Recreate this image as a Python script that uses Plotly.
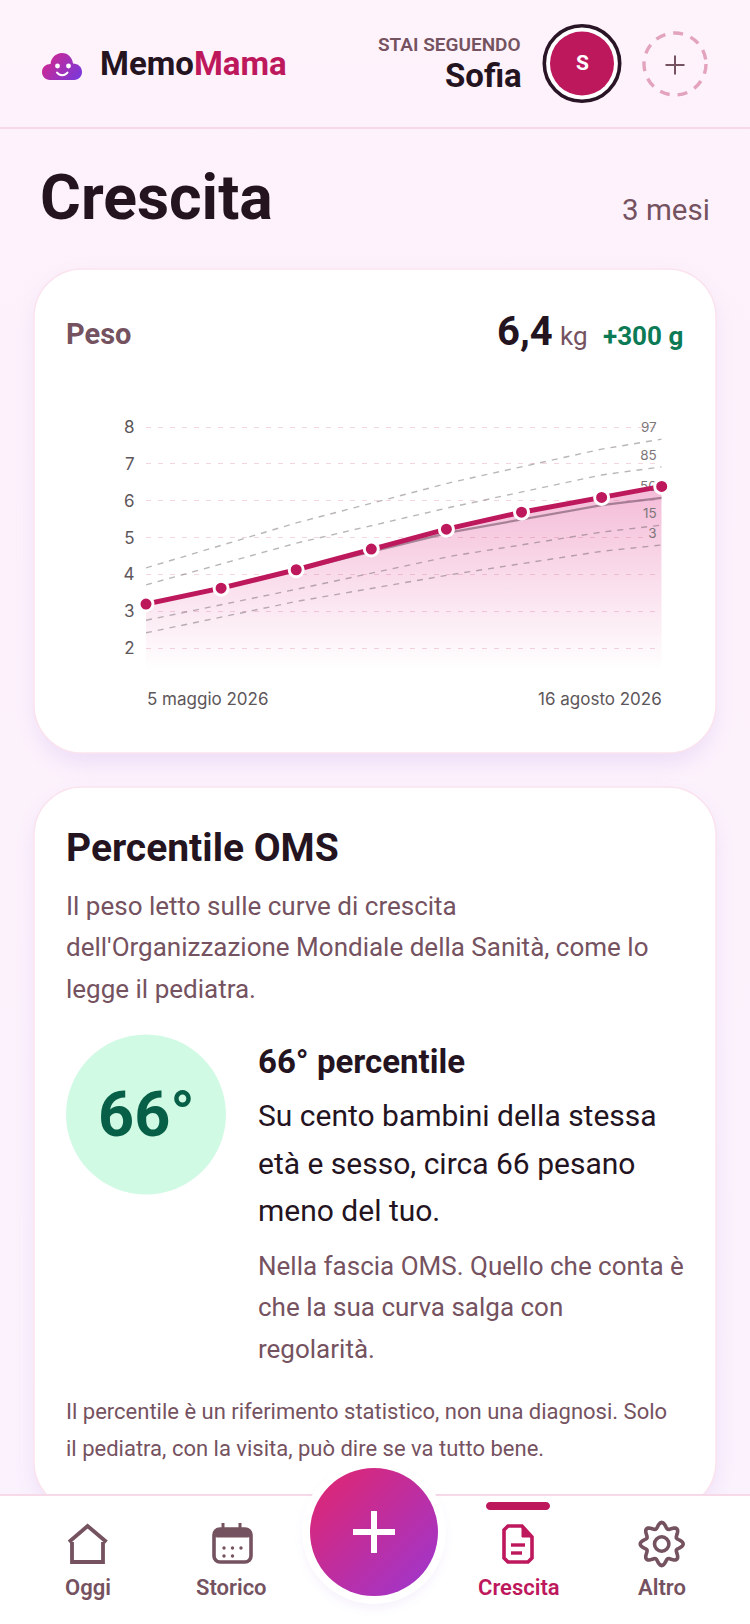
import base64

import numpy as np
import plotly.graph_objects as go

W, H = 750, 1624

# weight measurements of the child
dates = ['2026-05-05', '2026-05-20', '2026-06-04', '2026-06-19',
         '2026-07-04', '2026-07-19', '2026-08-04', '2026-08-16']
peso = [3.2, 3.63, 4.13, 4.69, 5.23, 5.69, 6.09, 6.39]

# WHO percentile curves, monthly
curve_dates = ['2026-05-05', '2026-06-04', '2026-07-05', '2026-08-04', '2026-08-16']
p97 = [4.18, 5.4, 6.5, 7.4, 7.67]
p85 = [3.72, 4.85, 5.83, 6.7, 6.92]
p50 = [3.2, 4.12, 5.15, 5.88, 6.08]
p15 = [2.76, 3.6, 4.5, 5.15, 5.34]
p3 = [2.42, 3.27, 4.0, 4.63, 4.8]
curve_labels = ['97', '85', '50', '15', '3']
label_date = '2026-08-15'
label_lift = 0.1

y_ticks = [2, 3, 4, 5, 6, 7, 8]

INK = '#24141f'
MAUVE = '#75525f'
CRIMSON = '#be185d'
GREY = '#5d565a'
BORDER = '#f8d9e8'


def px(x):
    return x / W


def py(y):
    return 1 - y / H


def round_rect(x0, y0, x1, y1, r):
    k = r * 0.448
    pts = [
        f'M{px(x0 + r)},{py(y0)}', f'L{px(x1 - r)},{py(y0)}',
        f'C{px(x1 - k)},{py(y0)} {px(x1)},{py(y0 + k)} {px(x1)},{py(y0 + r)}',
        f'L{px(x1)},{py(y1 - r)}',
        f'C{px(x1)},{py(y1 - k)} {px(x1 - k)},{py(y1)} {px(x1 - r)},{py(y1)}',
        f'L{px(x0 + r)},{py(y1)}',
        f'C{px(x0 + k)},{py(y1)} {px(x0)},{py(y1 - k)} {px(x0)},{py(y1 - r)}',
        f'L{px(x0)},{py(y0 + r)}',
        f'C{px(x0)},{py(y0 + k)} {px(x0 + k)},{py(y0)} {px(x0 + r)},{py(y0)}', 'Z',
    ]
    return ' '.join(pts)


def poly(points, close=False):
    s = 'M' + ' L'.join(f'{px(x)},{py(y)}' for x, y in points)
    return s + (' Z' if close else '')


shapes = []


def add_path(path, fill=None, color=None, width=0, layer='below'):
    line = dict(color=color, width=width) if color else dict(width=0)
    shapes.append(dict(type='path', path=path, xref='paper', yref='paper', layer=layer,
                       fillcolor=fill or 'rgba(0,0,0,0)', line=line))


def add_circle(cx, cy, r, fill=None, color=None, width=0, dash=None, layer='below'):
    line = dict(color=color, width=width, dash=dash) if color else dict(width=0)
    shapes.append(dict(type='circle', xref='paper', yref='paper', layer=layer,
                       x0=px(cx - r), x1=px(cx + r), y0=py(cy + r), y1=py(cy - r),
                       fillcolor=fill or 'rgba(0,0,0,0)', line=line))


annotations = []


def add_text(x, y, s, size, color=INK, weight=400, anchor='left', font='Roboto'):
    annotations.append(dict(x=px(x), y=py(y), xref='paper', yref='paper', text=s,
                            showarrow=False, xanchor=anchor, yanchor='middle', borderpad=0,
                            font=dict(family=font, size=size, color=color, weight=weight)))


def svg_image(svg, x, y, w, h, layer):
    src = 'data:image/svg+xml;base64,' + base64.b64encode(svg.encode()).decode()
    return dict(source=src, xref='paper', yref='paper', x=px(x), y=py(y), sizex=w / W, sizey=h / H,
                xanchor='left', yanchor='top', sizing='stretch', layer=layer)


# page background and card shadows
bg_svg = f'''<svg xmlns="http://www.w3.org/2000/svg" width="{W}" height="{H}" viewBox="0 0 {W} {H}">
<defs><linearGradient id="g" x1="0" y1="0" x2="0" y2="1">
<stop offset="0" stop-color="#fef2fb"/><stop offset="1" stop-color="#faf2fd"/></linearGradient>
<filter id="b" x="-20%" y="-20%" width="140%" height="140%"><feGaussianBlur stdDeviation="11"/></filter></defs>
<rect width="{W}" height="{H}" fill="url(#g)"/>
<rect x="36" y="279" width="678" height="484" rx="48" fill="#8a50d8" opacity="0.13" filter="url(#b)"/>
<rect x="36" y="797" width="678" height="720" rx="48" fill="#8a50d8" opacity="0.13" filter="url(#b)"/>
</svg>'''

logo_svg = '''<svg xmlns="http://www.w3.org/2000/svg" width="40" height="27" viewBox="0 0 40 27">
<defs><linearGradient id="l" gradientUnits="userSpaceOnUse" x1="4" y1="2" x2="36" y2="26">
<stop offset="0" stop-color="#d1278f"/><stop offset="1" stop-color="#7c38d8"/></linearGradient></defs>
<path d="M8 27 C3 27 0 23 0 19 C0 14 4 11 8.500 11 C9 5 13.500 0 20 0 C26 0 30.500 5 31 10.500 C36 10.500 40 14 40 19 C40 23 37 27 32 27 Z" fill="url(#l)"/>
<circle cx="15.500" cy="13" r="2.400" fill="#fff"/><circle cx="26.500" cy="13" r="2.400" fill="#fff"/>
<path d="M15 19.500 C17 23 23.500 23 25.500 19.500" stroke="#fff" stroke-width="2" fill="none" stroke-linecap="round"/>
</svg>'''

fab_svg = '''<svg xmlns="http://www.w3.org/2000/svg" width="180" height="180" viewBox="0 0 180 180">
<defs><linearGradient id="f" x1="0.1" y1="0.1" x2="0.9" y2="0.9">
<stop offset="0" stop-color="#db2777"/><stop offset="1" stop-color="#a235c8"/></linearGradient>
<filter id="s" x="-30%" y="-30%" width="160%" height="160%"><feGaussianBlur stdDeviation="6"/></filter></defs>
<circle cx="90" cy="96" r="70" fill="#8a50d8" opacity="0.08" filter="url(#s)"/>
<circle cx="90" cy="90" r="72" fill="#fff"/>
<circle cx="90" cy="90" r="64" fill="url(#f)"/>
</svg>'''

images = [
    svg_image(bg_svg, 0, 0, W, H, 'below'),
    svg_image(logo_svg, 42, 53, 40, 27, 'above'),
    svg_image(fab_svg, 284, 1442, 180, 180, 'above'),
]

# header
add_path(poly([(0, 128), (W, 128)]), color=BORDER, width=2)
add_text(99, 64, f'Memo<span style="color:{CRIMSON}">Mama</span>', 33, INK, 700)
add_text(522, 44, 'STAI SEGUENDO', 19, MAUVE, 600, 'right')
add_text(522.5, 75.5, 'Sofia', 33, INK, 700, 'right')
add_circle(582, 63.5, 37.7, '#ffffff', '#2a1526', 3.6)
add_circle(582, 63.5, 32, CRIMSON)
add_text(582, 63, 'S', 21, '#ffffff', 700, 'center')
add_circle(675, 64, 31, None, '#e3a3bd', 3.4, '10px,8px')
add_path(poly([(665.5, 65), (684.5, 65)]), color=MAUVE, width=2)
add_path(poly([(675, 55.5), (675, 74.5)]), color=MAUVE, width=2)

add_text(39, 197, 'Crescita', 62.5, INK, 700)
add_text(711, 210, '3 mesi', 29.5, MAUVE, 400, 'right')

# cards
add_path(round_rect(34, 269, 716, 753, 48), '#ffffff', '#fbe3ee', 1.5)
add_path(round_rect(34, 787, 716, 1510, 48), '#ffffff', '#fbe3ee', 1.5)

add_text(65, 334, 'Peso', 29, MAUVE, 700)
add_text(554, 331, '6,4', 40, INK, 700, 'right')
add_text(559, 336, 'kg', 26, MAUVE, 400)
add_text(684, 336, '+300 g', 26, '#0b7a55', 700, 'right')

add_text(65, 848, 'Percentile OMS', 39, INK, 700)
add_text(65, 906, 'Il peso letto sulle curve di crescita', 26, MAUVE)
add_text(65, 947, "dell'Organizzazione Mondiale della Sanità, come lo", 26, MAUVE)
add_text(65, 989, 'legge il pediatra.', 26, MAUVE)

add_circle(146, 1114.5, 80, '#d1fae5')
add_text(146.5, 1114, '66°', 63, '#065f46', 700, 'center')

add_text(257, 1061, '66° percentile', 33, INK, 700)
add_text(257, 1115, 'Su cento bambini della stessa', 30, INK)
add_text(257, 1163, 'età e sesso, circa 66 pesano', 30, INK)
add_text(257, 1210, 'meno del tuo.', 30, INK)
add_text(257, 1266, 'Nella fascia OMS. Quello che conta è', 26, MAUVE)
add_text(257, 1307, 'che la sua curva salga con', 26, MAUVE)
add_text(257, 1349, 'regolarità.', 26, MAUVE)
add_text(65, 1411, 'Il percentile è un riferimento statistico, non una diagnosi. Solo', 22, MAUVE)
add_text(65, 1448, 'il pediatra, con la visita, può dire se va tutto bene.', 22, MAUVE)

# bottom nav
add_path(poly([(0, 1495), (W, 1495), (W, H), (0, H)], True), '#ffffff')
add_path(poly([(0, 1495), (W, 1495)]), color=BORDER, width=2)
add_path(round_rect(486, 1502, 550, 1510, 4), CRIMSON)

for label, x, col in [('Oggi', 87.6, MAUVE), ('Storico', 231.6, MAUVE),
                      ('Crescita', 518.7, CRIMSON), ('Altro', 662, MAUVE)]:
    add_text(x, 1587, label, 22, col, 600, 'center')

# home icon
add_path(poly([(72, 1542), (72, 1562), (103, 1562), (103, 1542)]), color=MAUVE, width=3.8)
add_path(poly([(69, 1542), (87.6, 1526), (106.5, 1542)]), color=MAUVE, width=3.8)
# calendar icon
add_path(round_rect(214, 1529, 251, 1562, 6), None, MAUVE, 3.6)
add_path(round_rect(214, 1529, 251, 1537, 3), MAUVE, MAUVE, 1)
add_path(poly([(223, 1523), (223, 1531)]), color=MAUVE, width=3)
add_path(poly([(240, 1523), (240, 1531)]), color=MAUVE, width=3)
for cx, cy in [(224, 1548), (232.5, 1548), (241, 1548), (224, 1556), (232.5, 1556)]:
    add_circle(cx, cy, 1.7, MAUVE)
# document icon
add_path(poly([(504, 1530), (504, 1558), (508, 1562), (528, 1562), (532, 1558), (532, 1537),
               (522, 1526), (508, 1526)], True), None, CRIMSON, 3.6)
add_path(poly([(522, 1526), (522, 1537), (532, 1537)], True), CRIMSON, CRIMSON, 1)
add_path(poly([(511, 1545), (525, 1545)]), color=CRIMSON, width=3.4)
add_path(poly([(511, 1553), (522, 1553)]), color=CRIMSON, width=3.4)
# gear icon
theta = np.linspace(0, 2 * np.pi, 97)
radius = 18.7 + 2.8 * np.cos(8 * theta)
add_path(poly(list(zip(661.7 + radius * np.sin(theta), 1544 - radius * np.cos(theta))), True),
         None, MAUVE, 3.6)
add_circle(661.7, 1544, 7.2, None, MAUVE, 3.6)
# plus on the round button
add_path(poly([(353, 1532), (395, 1532)]), color='#ffffff', width=6, layer='above')
add_path(poly([(374, 1511), (374, 1553)]), color='#ffffff', width=6, layer='above')

# chart
y_per_px = (8 - 2) / (648.3 - 427)
y_bottom = 2 - (670 - 648.3) * y_per_px
y_top = 8 + (427 - 420) * y_per_px

fig = go.Figure()

fig.add_trace(go.Scatter(
    x=dates, y=peso, mode='none', fill='tozeroy',
    fillgradient=dict(type='vertical', start=peso[-1], stop=y_bottom,
                      colorscale=[[0, 'rgba(220,40,130,0.32)'], [1, 'rgba(220,40,130,0)']]),
))

for values in [p97, p85, p15, p3]:
    fig.add_trace(go.Scatter(x=curve_dates, y=values, mode='lines', cliponaxis=False,
                             line=dict(color='rgba(90,80,85,0.42)', width=1.4, dash='6px,6px')))
fig.add_trace(go.Scatter(x=curve_dates, y=p50, mode='lines',
                         line=dict(color='rgba(90,60,80,0.5)', width=2.2)))

label_y = [v[-1] + label_lift for v in [p97, p85, p50, p15, p3]]
fig.add_trace(go.Scatter(
    x=[label_date] * 5, y=label_y, mode='text',
    text=curve_labels, textposition='top left', cliponaxis=False,
    textfont=dict(family='Inter', size=13.5, color='#7d7679'),
))

fig.add_trace(go.Scatter(
    x=dates, y=peso, mode='lines+markers', cliponaxis=False,
    line=dict(color=CRIMSON, width=5),
    marker=dict(color=CRIMSON, size=14, line=dict(color='#ffffff', width=3)),
))

add_text(146, 699, '5 maggio 2026', 17, GREY, 400, 'left', 'Inter')
add_text(662.5, 699, '16 agosto 2026', 17, GREY, 400, 'right', 'Inter')

fig.update_layout(
    width=W, height=H, margin=dict(l=0, r=0, t=0, b=0, pad=0, autoexpand=False), showlegend=False,
    paper_bgcolor='rgba(0,0,0,0)', plot_bgcolor='rgba(0,0,0,0)',
    hovermode=False, shapes=shapes, annotations=annotations, images=images,
    xaxis=dict(domain=[px(146), px(661.7)], range=[dates[0], dates[-1]], type='date',
               showgrid=False, showticklabels=False, zeroline=False, showline=False),
    yaxis=dict(domain=[py(670), py(420)], range=[y_bottom, y_top], tickvals=y_ticks,
               showgrid=True, gridcolor='rgba(219,120,150,0.3)', griddash='5px,7px', gridwidth=1,
               zeroline=False, showline=False, ticks='outside', ticklen=7, tickcolor='rgba(0,0,0,0)',
               tickfont=dict(family='Inter', size=17, color=GREY)),
)

fig.write_html('out.html', config=dict(displayModeBar=False),
               post_script="document.body.style.margin='0';document.documentElement.style.overflow='hidden';")
